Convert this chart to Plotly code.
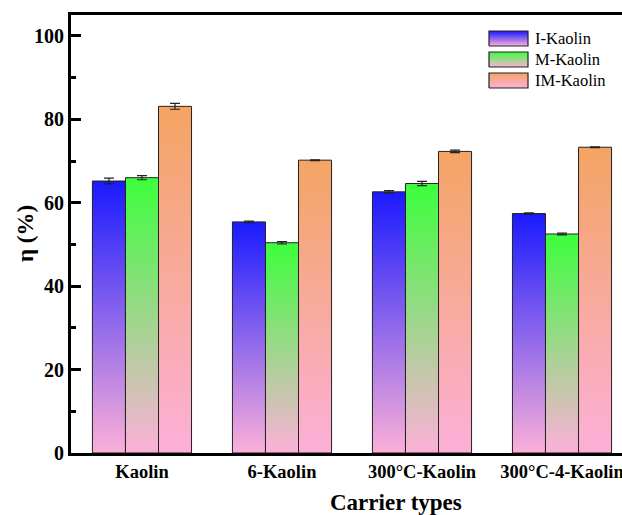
import plotly.graph_objects as go

categories = ["Kaolin", "6-Kaolin", "300°C-Kaolin", "300°C-4-Kaolin"]
series_names = ["I-Kaolin", "M-Kaolin", "IM-Kaolin"]
i_kaolin = [65.2, 55.4, 62.6, 57.4]
m_kaolin = [66.0, 50.4, 64.6, 52.5]
im_kaolin = [83.1, 70.2, 72.3, 73.3]
i_err = [0.7, 0.2, 0.3, 0.2]
m_err = [0.5, 0.3, 0.5, 0.2]
im_err = [0.7, 0.1, 0.3, 0.1]
y_ticks = [0, 20, 40, 60, 80, 100]

values = [i_kaolin, m_kaolin, im_kaolin]
errors = [i_err, m_err, im_err]
top_colors = ["#1a1aff", "#3cff3c", "#f4a462"]
pink = "#fcb0d8"
FONT = "Liberation Serif, Times New Roman, serif"
bw = 0.236
offsets = [-bw, 0.0, bw]

# figure is slightly wider than the window so the right side is cropped,
# as in the reference
W, H = 632, 515
L, T, B = 71, 15, 62
PW, PH = W - L, H - T - B
XR = [-0.507, 3.5]
YR = [0, 105]


def px(x):
    return (x - L) / PW


def py(y):
    return (H - B - y) / PH


def dx(p):
    return XR[0] + (XR[1] - XR[0]) * px(p)


def dy(p):
    return YR[0] + (YR[1] - YR[0]) * py(p)


fig = go.Figure()
for s, name in enumerate(series_names):
    for i, v in enumerate(values[s]):
        c = i + offsets[s]
        fig.add_trace(go.Scatter(
            x=[c - bw / 2, c + bw / 2, c + bw / 2, c - bw / 2, c - bw / 2],
            y=[0, 0, v, v, 0],
            mode="lines", fill="toself",
            fillgradient=dict(type="vertical", start=0, stop=v,
                              colorscale=[[0, pink], [1, top_colors[s]]]),
            line=dict(color="#222222", width=1),
            showlegend=False, hoverinfo="skip"))
    fig.add_trace(go.Scatter(
        x=[i + offsets[s] for i in range(len(categories))], y=values[s],
        mode="markers", marker=dict(size=1, color="rgba(0,0,0,0)"),
        error_y=dict(type="data", array=errors[s], visible=True,
                     color="#222222", thickness=1.2, width=5),
        showlegend=False, name=name))

# custom legend with gradient swatches
for s, name in enumerate(series_names):
    top = 31 + 21 * s
    bot = top + 15
    x0, x1 = dx(489), dx(528)
    y0, y1 = dy(bot), dy(top)
    fig.add_trace(go.Scatter(
        x=[x0, x1, x1, x0, x0], y=[y0, y0, y1, y1, y0],
        mode="lines", fill="toself",
        fillgradient=dict(type="vertical", start=y0, stop=y1,
                          colorscale=[[0, pink], [1, top_colors[s]]]),
        line=dict(color="#222222", width=1.2),
        showlegend=False, hoverinfo="skip"))
    fig.add_annotation(x=px(533), y=py((top + bot) / 2), xref="paper", yref="paper",
                       text=name, showarrow=False, xanchor="left",
                       yanchor="middle",
                       font=dict(family=FONT, size=16.5, color="black"))

fig.add_annotation(x=px(396), y=py(502), xref="paper", yref="paper",
                   text="Carrier types",
                   showarrow=False, xanchor="center", yanchor="middle",
                   font=dict(family=FONT, size=23, color="black", weight="bold"))
fig.add_annotation(x=px(25), y=py(234), xref="paper", yref="paper",
                   text="η (%)",
                   showarrow=False, textangle=-90, xanchor="center",
                   yanchor="middle",
                   font=dict(family=FONT, size=23, color="black", weight="bold"))

fig.update_layout(
    width=W, height=H,
    margin=dict(l=L, r=0, t=T, b=B),
    plot_bgcolor="white", paper_bgcolor="white",
    showlegend=False,
    xaxis=dict(range=XR, tickvals=list(range(len(categories))),
               ticktext=categories,
               ticks="", showline=True, linecolor="black", linewidth=3,
               mirror=True, showgrid=False, zeroline=False,
               ticklabeloverflow="allow",
               tickfont=dict(family=FONT, size=18.5, color="black", weight="bold")),
    yaxis=dict(range=YR, tickvals=y_ticks,
               ticks="inside", ticklen=10, tickwidth=3, tickcolor="black",
               minor=dict(ticks="inside", ticklen=5, tickwidth=3,
                          tickcolor="black", dtick=10, showgrid=False),
               showline=True, linecolor="black", linewidth=3,
               showgrid=False, zeroline=False,
               tickfont=dict(family=FONT, size=20, color="black", weight="bold")),
)

fig.write_html("out.html",
               post_script="document.body.style.overflow='hidden';"
                           "document.body.style.margin='0';")
